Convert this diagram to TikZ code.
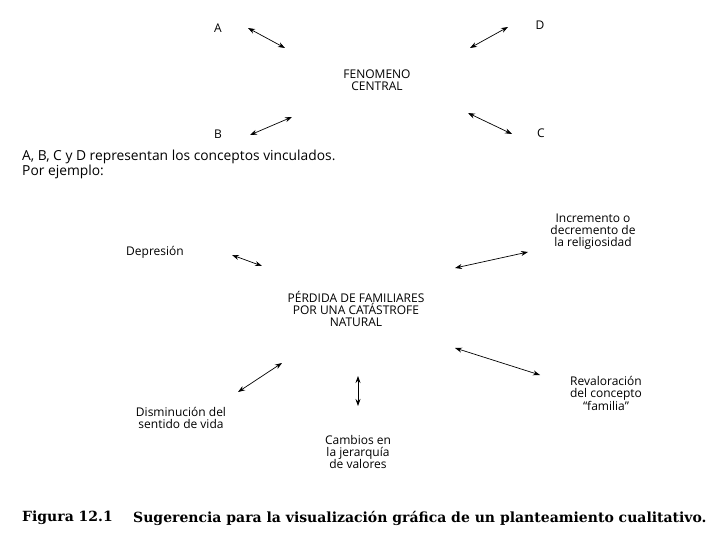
\documentclass[tikz,border=0pt]{standalone}
\usepackage{fontspec}
\setmainfont{DejaVu Serif}
\newfontfamily\labelfont{Open Sans}
\usetikzlibrary{arrows.meta}

\tikzset{
  concept/.style={font=\labelfont\fontsize{12}{12}\selectfont, align=center, inner sep=0pt},
  link/.style={{Stealth[length=7pt,width=5pt]}-{Stealth[length=7pt,width=5pt]}, line width=0.7pt},
  caption/.style={font=\bfseries\fontsize{14}{15}\selectfont, anchor=west, inner sep=0pt}
}

\begin{document}
\begin{tikzpicture}[x=1pt,y=-1pt]
\useasboundingbox (0,0) rectangle (720,540);
% esquema general
\node[concept] (A) at (218,28) {A};
\node[concept] (D) at (540,25) {D};
\node[concept] (fc) at (377,80) {FENOMENO\\CENTRAL};
\node[concept] (B) at (218,134) {B};
\node[concept] (C) at (541,133) {C};
\coordinate (a1) at (248,28);  \coordinate (a2) at (285,48);
\coordinate (d1) at (470,48);  \coordinate (d2) at (508,27);
\coordinate (b1) at (250,135); \coordinate (b2) at (292,117);
\coordinate (c1) at (468,113); \coordinate (c2) at (512,134);
\draw[link] (a1) -- (a2);
\draw[link] (d1) -- (d2);
\draw[link] (b1) -- (b2);
\draw[link] (c1) -- (c2);
\node[concept, font=\labelfont\fontsize{13.8}{12}\selectfont, align=left, anchor=north west] (note) at (22,150)
  {A, B, C y D representan los conceptos vinculados.\\Por ejemplo:};
% ejemplo
\node[concept] (dep) at (155,252) {Depresión};
\node[concept] (rel) at (593,232) {Incremento o\\decremento de\\la religiosidad};
\node[concept] (perd) at (356,309) {PÉRDIDA DE FAMILIARES\\POR UNA CATÁSTROFE\\NATURAL};
\node[concept] (rev) at (606,393) {Revaloración\\del concepto\\“familia”};
\node[concept] (cam) at (358,452) {Cambios en\\la jerarquía\\de valores};
\node[concept] (dis) at (181,418) {Disminución del\\sentido de vida};
\coordinate (p1) at (232,255); \coordinate (p2) at (262,266);
\coordinate (r1) at (455,268); \coordinate (r2) at (528,252);
\coordinate (v1) at (455,348); \coordinate (v2) at (540,375);
\coordinate (j1) at (358,376); \coordinate (j2) at (358,406);
\coordinate (s1) at (238,392); \coordinate (s2) at (282,363);
\draw[link] (p1) -- (p2);
\draw[link] (r1) -- (r2);
\draw[link] (v1) -- (v2);
\draw[link] (j1) -- (j2);
\draw[link] (s1) -- (s2);
% pie de figura
\node[caption] (fig) at (22,518) {Figura 12.1};
\node[caption] (sug) at (133,518) {Sugerencia para la visualización gráfica de un planteamiento cualitativo.};
\end{tikzpicture}
\end{document}
